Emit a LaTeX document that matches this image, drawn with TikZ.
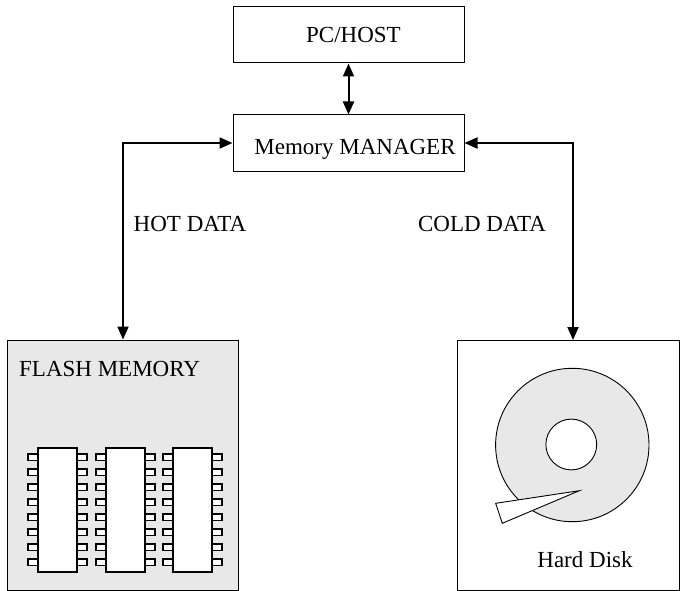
\documentclass[tikz,border=0pt]{standalone}
\usepackage{fontspec}
\setmainfont{Liberation Serif}
\usetikzlibrary{arrows.meta}
\definecolor{panel}{HTML}{E8E8E8}
\begin{document}
\begin{tikzpicture}[x=1pt,y=-1pt,
  every node/.style={font=\fontsize{23}{27}\selectfont, inner sep=0pt},
  block/.style={draw=black, line width=1pt, fill=white},
  label/.style={anchor=base},
  tip/.tip={Triangle[length=13pt,width=11pt]},
  link/.style={line width=2pt, tip-tip},
  chipbody/.style={draw=black, line width=1.1pt, fill=white},
  pin/.style={draw=black, line width=1.1pt, fill=white}]
\useasboundingbox (0,0) rectangle (680,591);

% host and manager blocks
\node[block, minimum width=231pt, minimum height=56pt] (host) at (348.5,35) {};
\node[label] (hostlbl) at (353.5,42.7) {PC/HOST};
\node[block, minimum width=231pt, minimum height=56pt] (mgr) at (348.5,143) {};
\node[label] (mgrlbl) at (355,155) {Memory MANAGER};

% storage panels
\node[block, fill=panel, minimum width=231pt, minimum height=250pt] (flash) at (123,465) {};
\node[block, minimum width=222pt, minimum height=250pt] (hdd) at (568.5,465) {};
\coordinate (hddin) at (573,340);

% connectors
\draw[link] (host.south) -- (mgr.north);
\draw[link] (mgr.west) -| (flash.north);
\draw[link] (mgr.east) -| (hddin);

% connector labels
\node[label] (hot) at (190,231) {HOT DATA};
\node[label] (cold) at (482,231.5) {COLD DATA};

% flash memory contents
\node[label, anchor=base west] (flashlbl) at (19,376.7) {FLASH MEMORY};
\foreach \cx in {38,106,173}{
  \foreach \k in {0,...,7}{
    \draw[pin] (\cx-10,{454+15*\k}) rectangle (\cx,{460.5+15*\k});
    \draw[pin] (\cx+39,{454+15*\k}) rectangle (\cx+49,{460.5+15*\k});
  }
  \draw[chipbody] (\cx,448) rectangle (\cx+39,572);
}

% hard disk platter and head
\draw[line width=0.9pt, fill=panel] (572.3,445) circle[radius=76.7];
\draw[line width=0.9pt, fill=white] (571.3,444.5) circle[radius=25.4];
\draw[line width=0.9pt, fill=white, line join=miter] (579.3,490.7) -- (495.7,503.3) -- (502.3,523.3) -- cycle;
\node[label] (hddlbl) at (585,567) {Hard Disk};
\end{tikzpicture}
\end{document}
